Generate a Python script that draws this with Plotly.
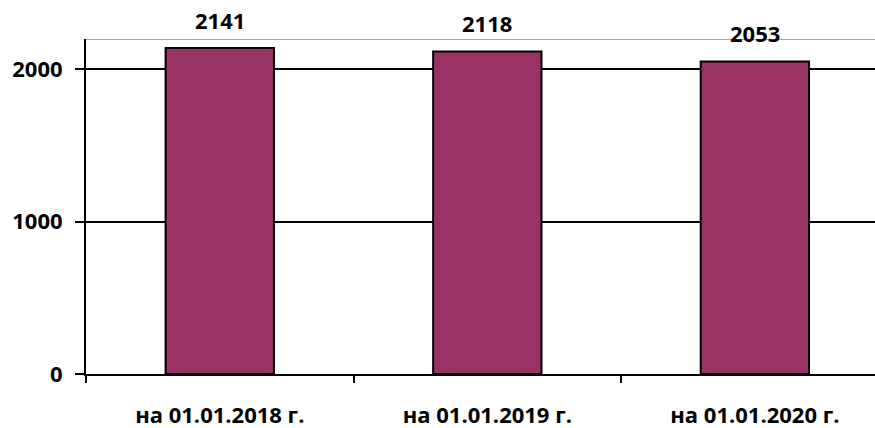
import plotly.graph_objects as go

# Number on the first of January, by year
periods = ["на 01.01.2018 г.", "на 01.01.2019 г.", "на 01.01.2020 г."]
counts = [2141, 2118, 2053]
y_ticks = [0, 1000, 2000]

bold_font = dict(family="Open Sans", size=22, color="black", weight="bold")

fig = go.Figure()
fig.add_trace(go.Bar(
    x=periods,
    y=counts,
    marker_color="#993366",
    marker_line_color="black",
    marker_line_width=2,
    width=0.405,
))

# value labels above the bars
for p, c in zip(periods, counts):
    fig.add_annotation(x=p, y=c, text=str(c), showarrow=False,
                       yshift=28, font=bold_font)

# grey line along the top of the plot area
fig.add_shape(type="line", xref="paper", yref="y", x0=0, x1=1, y0=2200, y1=2200,
              line=dict(color="#a6a6a6", width=2))

fig.update_layout(
    width=875,
    height=428,
    margin=dict(l=86, r=0, t=39, b=54, autoexpand=False),
    plot_bgcolor="white",
    paper_bgcolor="white",
    showlegend=False,
    xaxis=dict(
        range=[-0.5, 2.449],
        showgrid=False,
        showline=True, linecolor="black", linewidth=2,
        ticks="outside", tickson="boundaries", ticklen=7, tickwidth=2, tickcolor="black",
        ticklabelstandoff=21,
        tickfont=dict(family="Open Sans", size=22, color="black", weight="bold"),
    ),
    yaxis=dict(
        range=[0, 2200],
        tickvals=y_ticks,
        showgrid=True, gridcolor="black", gridwidth=2,
        showline=True, linecolor="black", linewidth=2,
        zeroline=False,
        ticks="outside", ticklen=9, tickwidth=2, tickcolor="black",
        ticklabelstandoff=8,
        tickfont=bold_font,
    ),
)

# the page's default body margin would shift the chart
fig.write_html(
    "out.html",
    config={"displayModeBar": False},
    post_script="document.body.style.margin='0';document.body.style.overflow='hidden';",
)
